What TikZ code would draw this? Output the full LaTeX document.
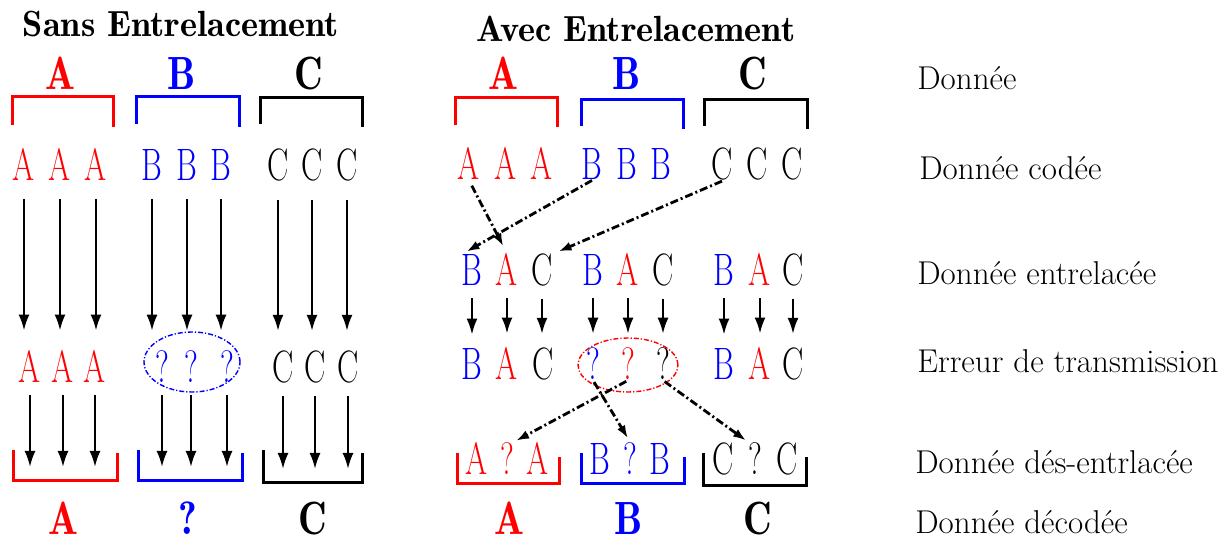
\documentclass[tikz,border=0pt]{standalone}
\usepackage{graphicx}
\usetikzlibrary{arrows.meta}
% narrow glyphs, as in the source drawing
\newcommand{\rowchar}[1]{\scalebox{0.7}[1]{#1}}
\newcommand{\capchar}[1]{\scalebox{0.85}[1]{#1}}
\tikzset{
  ltr/.style={inner sep=0pt,anchor=base,font=\fontsize{22.7bp}{24bp}\selectfont},
  bigltr/.style={inner sep=0pt,anchor=base,font=\fontsize{23.3bp}{25bp}\fontseries{b}\selectfont},
  ttl/.style={inner sep=0pt,anchor=base,font=\fontsize{18.2bp}{20bp}\fontseries{b}\selectfont},
  lbl/.style={inner sep=0pt,anchor=base west,font=\fontsize{16.5bp}{18bp}\selectfont},
  bracket/.style={line width=1.5bp,line join=miter},
  vert/.style={->,line width=1.1bp},
  mix/.style={->,line width=1.4bp,dash pattern=on 4bp off 1.5bp on 1bp off 1.5bp,
    >={Latex[length=6.5bp,width=4.5bp]}},
  errzone/.style={line width=0.7bp,dash pattern=on 2.5bp off 1bp on 0.6bp off 1bp},
}
\begin{document}
\begin{tikzpicture}[>={Latex[length=8bp,width=5.5bp]},line join=bevel,]
\useasboundingbox (0bp,0bp) rectangle (614.5bp,271bp);
%%
  % Node: titles
  \node[ttl] (ttlsans) at (90.5bp,252.5bp) {Sans Entrelacement};
  \node[ttl] (ttlavec) at (318bp,250bp) {Avec Entrelacement};
  % Node: row labels
  \node[lbl] (lbdata) at (458.5bp,226bp) {Donnée};
  \node[lbl] (lbcoded) at (459.5bp,181bp) {Donnée codée};
  \node[lbl] (lbinter) at (458.5bp,128.5bp) {Donnée entrelacée};
  \node[lbl] (lberror) at (458.5bp,84.5bp) {Erreur de transmission};
  \node[lbl] (lbdeint) at (457.5bp,34.5bp) {Donnée dés-entrlacée};
  \node[lbl] (lbdecod) at (457.5bp,4.5bp) {Donnée décodée};
%
%% Sans Entrelacement
  % Node: data blocks
  \node[bigltr,red] (stA) at (30bp,226bp) {\capchar{A}};
  \node[bigltr,blue] (stB) at (91bp,226bp) {\capchar{B}};
  \node[bigltr] (stC) at (154.5bp,226bp) {\capchar{C}};
  \draw[bracket,red] (6bp,208.5bp) -- (6bp,222.5bp) -- (56.5bp,222.5bp) -- (56.5bp,207.5bp);
  \draw[bracket,blue] (68bp,209bp) -- (68bp,222.5bp) -- (119.5bp,222.5bp) -- (119.5bp,207.5bp);
  \draw[bracket] (130bp,209bp) -- (130bp,222bp) -- (181bp,222bp) -- (181bp,207.5bp);
  % Node: coded
  \node[ltr,red] (sA1) at (12bp,180.5bp) {\rowchar{A}};
  \node[ltr,red] (sA2) at (30bp,180.5bp) {\rowchar{A}};
  \node[ltr,red] (sA3) at (48bp,180.5bp) {\rowchar{A}};
  \node[ltr,blue] (sB1) at (76bp,180.5bp) {\rowchar{B}};
  \node[ltr,blue] (sB2) at (93.5bp,180.5bp) {\rowchar{B}};
  \node[ltr,blue] (sB3) at (110.5bp,180.5bp) {\rowchar{B}};
  \node[ltr] (sC1) at (139bp,180.5bp) {\rowchar{C}};
  \node[ltr] (sC2) at (156bp,180.5bp) {\rowchar{C}};
  \node[ltr] (sC3) at (173.5bp,180.5bp) {\rowchar{C}};
  % Node: received
  \node[ltr,red] (seA1) at (15bp,79.5bp) {\rowchar{A}};
  \node[ltr,red] (seA2) at (31.5bp,79.5bp) {\rowchar{A}};
  \node[ltr,red] (seA3) at (47.5bp,79.5bp) {\rowchar{A}};
  \node[ltr,blue] (seQ1) at (81bp,79.5bp) {\rowchar{?}};
  \node[ltr,blue] (seQ2) at (95.5bp,79.5bp) {\rowchar{?}};
  \node[ltr,blue] (seQ3) at (113.5bp,79.5bp) {\rowchar{?}};
  \node[ltr] (seC1) at (141.5bp,79.5bp) {\rowchar{C}};
  \node[ltr] (seC2) at (157.5bp,79.5bp) {\rowchar{C}};
  \node[ltr] (seC3) at (174bp,79.5bp) {\rowchar{C}};
  \draw[errzone,blue] (96bp,90bp) ellipse (24bp and 15bp);
  % Node: decoded
  \coordinate (sbkA) at (32.5bp,30.5bp);
  \coordinate (sbkB) at (95bp,30.5bp);
  \coordinate (sbkC) at (156bp,29.5bp);
  \draw[bracket,red] (6.5bp,46bp) -- (6.5bp,30.5bp) -- (58.5bp,30.5bp) -- (58.5bp,44.5bp);
  \draw[bracket,blue] (69bp,46bp) -- (69bp,30.5bp) -- (121bp,30.5bp) -- (121bp,44.5bp);
  \draw[bracket] (131.5bp,46bp) -- (131.5bp,29.5bp) -- (181bp,29.5bp) -- (181bp,44.5bp);
  \node[bigltr,red] (sdA) at (31.5bp,4bp) {\capchar{A}};
  \node[bigltr,blue] (sdQ) at (94bp,4bp) {\capchar{?}};
  \node[bigltr] (sdC) at (156.5bp,4bp) {\capchar{C}};
  % Edge: coded -> received
  \path[vert,shorten <=9bp,shorten >=10bp]
    (sA1.south) edge (sA1.south |- seA1.north) (sA2.south) edge (sA2.south |- seA2.north)
    (sA3.south) edge (sA3.south |- seA3.north) (sB1.south) edge (sB1.south |- seQ1.north)
    (sB2.south) edge (sB2.south |- seQ2.north) (sB3.south) edge (sB3.south |- seQ3.north)
    (sC1.south) edge (sC1.south |- seC1.north) (sC2.south) edge (sC2.south |- seC2.north)
    (sC3.south) edge (sC3.south |- seC3.north);
  % Edge: received -> decoded
  \path[vert,shorten <=6bp,shorten >=7bp]
    (seA1.south) edge (seA1.south |- sbkA) (seA2.south) edge (seA2.south |- sbkA)
    (seA3.south) edge (seA3.south |- sbkA) (seQ1.south) edge (seQ1.south |- sbkB)
    (seQ2.south) edge (seQ2.south |- sbkB) (seQ3.south) edge (seQ3.south |- sbkB)
    (seC1.south) edge (seC1.south |- sbkC) (seC2.south) edge (seC2.south |- sbkC)
    (seC3.south) edge (seC3.south |- sbkC);
%
%% Avec Entrelacement
  % Node: data blocks
  \node[bigltr,red] (atA) at (251.5bp,226bp) {\capchar{A}};
  \node[bigltr,blue] (atB) at (313.5bp,226bp) {\capchar{B}};
  \node[bigltr] (atC) at (376.5bp,226bp) {\capchar{C}};
  \draw[bracket,red] (227.5bp,208.5bp) -- (227.5bp,222bp) -- (278.5bp,222bp) -- (278.5bp,207.5bp);
  \draw[bracket,blue] (290.5bp,208bp) -- (290.5bp,221bp) -- (341.5bp,221bp) -- (341.5bp,206.5bp);
  \draw[bracket] (352bp,208bp) -- (352bp,221bp) -- (403.5bp,221bp) -- (403.5bp,206.5bp);
  % Node: coded
  \node[ltr,red] (aA1) at (234.5bp,181bp) {\rowchar{A}};
  \node[ltr,red] (aA2) at (253bp,181bp) {\rowchar{A}};
  \node[ltr,red] (aA3) at (271bp,181bp) {\rowchar{A}};
  \node[ltr,blue] (aB1) at (296bp,181bp) {\rowchar{B}};
  \node[ltr,blue] (aB2) at (313.5bp,181bp) {\rowchar{B}};
  \node[ltr,blue] (aB3) at (330.5bp,181bp) {\rowchar{B}};
  \node[ltr] (aC1) at (361bp,181bp) {\rowchar{C}};
  \node[ltr] (aC2) at (378.5bp,181bp) {\rowchar{C}};
  \node[ltr] (aC3) at (396bp,181bp) {\rowchar{C}};
  % Node: interleaved
  \node[ltr,blue] (aiB1) at (236bp,128bp) {\rowchar{B}};
  \node[ltr,red] (aiA1) at (253.5bp,128bp) {\rowchar{A}};
  \node[ltr] (aiC1) at (271bp,128bp) {\rowchar{C}};
  \node[ltr,blue] (aiB2) at (296.5bp,128bp) {\rowchar{B}};
  \node[ltr,red] (aiA2) at (314bp,128bp) {\rowchar{A}};
  \node[ltr] (aiC2) at (331.5bp,128bp) {\rowchar{C}};
  \node[ltr,blue] (aiB3) at (362bp,128bp) {\rowchar{B}};
  \node[ltr,red] (aiA3) at (380bp,128bp) {\rowchar{A}};
  \node[ltr] (aiC3) at (396.5bp,128bp) {\rowchar{C}};
  % Node: received
  \node[ltr,blue] (aeB1) at (236bp,81bp) {\rowchar{B}};
  \node[ltr,red] (aeA1) at (253.5bp,81bp) {\rowchar{A}};
  \node[ltr] (aeC1) at (271.5bp,81bp) {\rowchar{C}};
  \node[ltr,blue] (aeQ1) at (296.5bp,81bp) {\rowchar{?}};
  \node[ltr,red] (aeQ2) at (314bp,81bp) {\rowchar{?}};
  \node[ltr] (aeQ3) at (331.5bp,81bp) {\rowchar{?}};
  \node[ltr,blue] (aeB3) at (362bp,81bp) {\rowchar{B}};
  \node[ltr,red] (aeA3) at (380bp,81bp) {\rowchar{A}};
  \node[ltr] (aeC3) at (396.5bp,81bp) {\rowchar{C}};
  \draw[errzone,red] (314bp,88.5bp) ellipse (25bp and 13.5bp);
  % Node: de-interleaved
  \node[ltr,red] (adA1) at (238.5bp,34bp) {\rowchar{A}};
  \node[ltr,red] (adQ1) at (253.5bp,34bp) {\rowchar{?}};
  \node[ltr,red] (adA2) at (269bp,34bp) {\rowchar{A}};
  \node[ltr,blue] (adB1) at (300bp,34bp) {\rowchar{B}};
  \node[ltr,blue] (adQ2) at (315bp,34bp) {\rowchar{?}};
  \node[ltr,blue] (adB2) at (330bp,34bp) {\rowchar{B}};
  \node[ltr] (adC1) at (361.5bp,34bp) {\rowchar{C}};
  \node[ltr] (adQ3) at (377.5bp,34bp) {\rowchar{?}};
  \node[ltr] (adC2) at (393.5bp,34bp) {\rowchar{C}};
  \draw[bracket,red] (228.5bp,44.5bp) -- (228.5bp,29bp) -- (279.5bp,29bp) -- (279.5bp,42.5bp);
  \draw[bracket,blue] (290.5bp,44.5bp) -- (290.5bp,29bp) -- (342bp,29bp) -- (342bp,42.5bp);
  \draw[bracket] (351.5bp,44.5bp) -- (351.5bp,28bp) -- (403bp,28bp) -- (403bp,42.5bp);
  % Node: decoded
  \node[bigltr,red] (adecA) at (254.5bp,4bp) {\capchar{A}};
  \node[bigltr,blue] (adecB) at (314.5bp,4bp) {\capchar{B}};
  \node[bigltr] (adecC) at (379bp,4bp) {\capchar{C}};
  % Edge: coded -> interleaved
  \draw[mix,shorten <=3bp,shorten >=4bp] (aA1.south) -- (aiA1.north);
  \draw[mix,shorten >=3bp] (aB1.south) -- (aiB1.north west);
  \draw[mix,shorten >=3bp] (aC1.south) -- (aiC1.north east);
  % Edge: interleaved -> received
  \path[vert,shorten <=6bp,shorten >=7bp]
    (aiB1.south) edge (aiB1.south |- aeB1.north) (aiA1.south) edge (aiA1.south |- aeA1.north)
    (aiC1.south) edge (aiC1.south |- aeC1.north) (aiB2.south) edge (aiB2.south |- aeQ1.north)
    (aiA2.south) edge (aiA2.south |- aeQ2.north) (aiC2.south) edge (aiC2.south |- aeQ3.north)
    (aiB3.south) edge (aiB3.south |- aeB3.north) (aiA3.south) edge (aiA3.south |- aeA3.north)
    (aiC3.south) edge (aiC3.south |- aeC3.north);
  % Edge: received -> de-interleaved
  \draw[mix,shorten <=1bp,shorten >=1bp] (aeQ2.south) -- (adQ1.north east);
  \draw[mix,shorten <=1bp,shorten >=2bp] (aeQ1.south) -- (adQ2.north);
  \draw[mix,shorten <=1bp,shorten >=1bp] (aeQ3.south) -- (adQ3.north west);
%
\end{tikzpicture}
\end{document}
